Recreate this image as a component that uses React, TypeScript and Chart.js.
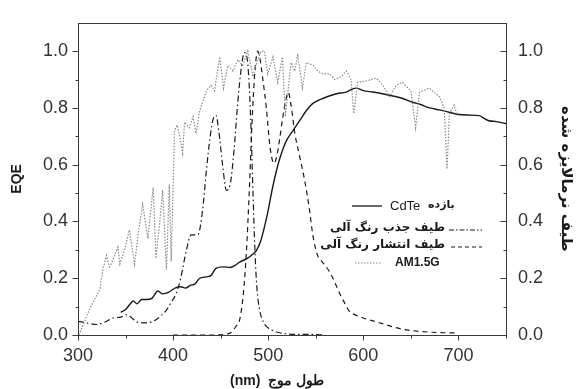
import React, { useEffect, useRef } from 'react';
import { Chart, registerables } from 'chart.js';

Chart.register(...registerables);

// ---- data ----
const cdteWl = [345, 350, 355, 358, 362, 367, 372, 378, 384, 389, 395, 403, 408, 413, 418, 423, 428, 435, 440, 445, 452, 460, 465, 470, 478, 484, 488, 492, 496, 500, 504, 508, 512, 516, 520, 526, 533, 540, 547, 555, 564, 572, 582, 592, 600, 610, 620, 630, 640, 652, 660, 670, 680, 690, 700, 710, 722, 726, 732, 740, 750];
const cdteEqe = [0.08, 0.09, 0.11, 0.12, 0.11, 0.125, 0.125, 0.13, 0.155, 0.145, 0.15, 0.167, 0.17, 0.165, 0.175, 0.18, 0.2, 0.205, 0.21, 0.235, 0.24, 0.238, 0.245, 0.257, 0.27, 0.285, 0.3, 0.33, 0.38, 0.44, 0.51, 0.57, 0.62, 0.66, 0.69, 0.72, 0.755, 0.79, 0.816, 0.83, 0.842, 0.85, 0.856, 0.87, 0.861, 0.856, 0.85, 0.843, 0.835, 0.82, 0.812, 0.8, 0.793, 0.785, 0.777, 0.775, 0.773, 0.765, 0.755, 0.752, 0.745];

const absWl = [300, 310, 319, 328, 337, 345, 351, 356, 360, 365, 372, 382, 388, 393, 398, 403, 408, 414, 419, 426, 431, 435, 439, 442, 445, 448, 452, 456, 460, 464, 468, 472, 475, 478, 480, 482, 484, 486, 488, 491, 495, 500, 505, 512, 520, 530, 545, 560];
const absVal = [0.048, 0.042, 0.037, 0.045, 0.06, 0.063, 0.071, 0.062, 0.05, 0.043, 0.043, 0.054, 0.07, 0.088, 0.115, 0.145, 0.2, 0.3, 0.353, 0.353, 0.44, 0.58, 0.7, 0.76, 0.774, 0.72, 0.6, 0.51, 0.53, 0.65, 0.82, 0.95, 0.995, 0.97, 0.88, 0.72, 0.5, 0.3, 0.17, 0.088, 0.045, 0.025, 0.015, 0.008, 0.004, 0.002, 0.002, 0.0];

const emWl = [400, 420, 440, 455, 461, 466, 470, 474, 477, 480, 483, 486, 489, 491, 494, 498, 502, 506, 509, 512, 515, 518, 521, 524, 528, 533, 538, 543, 547, 552, 556, 560, 564, 568, 572, 576, 580, 585, 592, 600, 610, 622, 634, 645, 655, 670, 685, 700];
const emVal = [0.0, 0.0, 0.0, 0.003, 0.009, 0.03, 0.054, 0.15, 0.29, 0.5, 0.75, 0.93, 1.0, 0.98, 0.91, 0.8, 0.66, 0.605, 0.63, 0.69, 0.76, 0.82, 0.855, 0.81, 0.71, 0.63, 0.55, 0.45, 0.35, 0.28, 0.26, 0.245, 0.225, 0.2, 0.17, 0.14, 0.115, 0.085, 0.07, 0.06, 0.05, 0.038, 0.026, 0.018, 0.014, 0.01, 0.008, 0.007];

const amWl = [301, 306, 312, 318, 323, 326, 330, 333, 335, 338.5, 342, 344, 349, 354, 359.5, 363, 368, 373.5, 379, 382, 386, 389, 393, 396, 398, 401.5, 404, 407, 410, 412, 417, 421, 424, 428, 431, 435, 440, 443.5, 449, 453, 457.5, 463, 468, 473, 478.5, 484, 487, 492.5, 496, 499.5, 505, 510, 515, 518, 524, 528, 531, 536, 540, 547, 552, 557.5, 564.5, 570, 577, 582, 587, 590, 594, 603, 613.5, 620.5, 627.5, 634.5, 641, 650, 655, 659, 669, 680, 685, 688, 690.5, 695.5, 698];
const amVal = [0.0, 0.04, 0.09, 0.13, 0.16, 0.23, 0.28, 0.24, 0.25, 0.28, 0.31, 0.25, 0.3, 0.37, 0.25, 0.35, 0.46, 0.34, 0.52, 0.27, 0.4, 0.51, 0.23, 0.53, 0.26, 0.72, 0.74, 0.7, 0.64, 0.75, 0.73, 0.77, 0.71, 0.79, 0.82, 0.86, 0.88, 0.86, 0.98, 0.87, 0.95, 0.93, 0.97, 0.95, 1.0, 0.91, 0.95, 1.0, 1.0, 0.92, 0.98, 0.89, 0.98, 0.77, 0.96, 0.93, 0.99, 0.87, 0.96, 0.95, 0.93, 0.92, 0.92, 0.9, 0.91, 0.93, 0.9, 0.78, 0.89, 0.895, 0.905, 0.88, 0.84, 0.88, 0.89, 0.86, 0.73, 0.855, 0.87, 0.84, 0.8, 0.585, 0.78, 0.81, 0.78];

const xTickValues = [300, 400, 500, 600, 700];
const xMinorValues = [350, 450, 550, 650, 750];
const yTickValues = [0, 0.2, 0.4, 0.6, 0.8, 1.0];
const yMinorValues = [0.1, 0.3, 0.5, 0.7, 0.9];

const xTitle = '(nm)  طول موج';
const yLeftTitle = 'EQE';
const yRightTitle = 'طیف نرمالایزه شده';
const legendCdte = ['CdTe', 'بازده'];
const legendAbs = 'طیف جذب رنگ آلی';
const legendEm = 'طیف انتشار رنگ آلی';
const legendAm = 'AM1.5G';

const LATIN = '"Liberation Sans", Arial, sans-serif';
const PERSIAN = '"DejaVu Sans", sans-serif';
const INK = '#1a1a1a';
const AXIS = '#3a3a3a';
const GRAY = '#8a8a8a';

const pts = (xs: number[], ys: number[]) => xs.map((x, i) => ({ x, y: ys[i] }));

const decorPlugin = {
  id: 'decor',
  afterDatasetsDraw(chart: any) {
    const { ctx, chartArea: a, scales } = chart;
    const xs = scales.x;
    const yl = scales.y;
    ctx.save();
    ctx.strokeStyle = AXIS;
    ctx.lineWidth = 1;
    const L = Math.round(a.left) + 0.5;
    const R = Math.round(a.right) + 0.5;
    const T = Math.round(a.top) + 0.5;
    const B = Math.round(a.bottom) + 0.5;
    ctx.strokeRect(L, T, R - L, B - T);
    const h = (x1: number, x2: number, y: number) => {
      const yy = Math.round(y) + 0.5;
      ctx.beginPath(); ctx.moveTo(x1, yy); ctx.lineTo(x2, yy); ctx.stroke();
    };
    const v = (x: number, y1: number, y2: number) => {
      const xx = Math.round(x) + 0.5;
      ctx.beginPath(); ctx.moveTo(xx, y1); ctx.lineTo(xx, y2); ctx.stroke();
    };
    yTickValues.forEach((t) => { const p = yl.getPixelForValue(t); h(L - 6, L, p); h(R - 6, R, p); });
    yMinorValues.forEach((t) => { const p = yl.getPixelForValue(t); h(L - 3, L, p); h(R - 3, R, p); });
    xTickValues.forEach((t) => { const p = xs.getPixelForValue(t); v(p, B, B + 5); });
    xMinorValues.forEach((t) => { const p = xs.getPixelForValue(t); v(p, B, B + 3); });
    ctx.restore();
  },
  afterDraw(chart: any) {
    const { ctx, chartArea: a } = chart;
    ctx.save();
    const seg = (x1: number, x2: number, y: number, dash: number[], color: string, w: number) => {
      ctx.save();
      ctx.strokeStyle = color; ctx.lineWidth = w; ctx.setLineDash(dash);
      ctx.beginPath(); ctx.moveTo(x1, y); ctx.lineTo(x2, y); ctx.stroke();
      ctx.restore();
    };
    ctx.fillStyle = INK;
    ctx.textBaseline = 'middle';
    // row 1
    seg(352, 382, 206, [], INK, 1.3);
    ctx.textAlign = 'left';
    ctx.font = `13px ${LATIN}`;
    ctx.fillText(legendCdte[0], 390, 206);
    ctx.font = `bold 11px ${PERSIAN}`;
    ctx.fillText(legendCdte[1], 428, 205);
    // row 2
    ctx.font = `bold 12px ${PERSIAN}`;
    ctx.textAlign = 'right';
    ctx.fillText(legendAbs, 445, 228);
    seg(449, 482, 230, [5, 2, 1.5, 2], INK, 1.1);
    // row 3
    ctx.fillText(legendEm, 445, 245);
    seg(451, 482, 247, [4, 3], INK, 1.1);
    // row 4
    seg(355, 382, 263, [1.5, 1.5], GRAY, 1.1);
    ctx.textAlign = 'left';
    ctx.font = `bold 12px ${LATIN}`;
    ctx.fillText(legendAm, 395, 263);
    // x title
    ctx.textAlign = 'center';
    ctx.font = `bold 14px ${LATIN}`;
    ctx.fillText(xTitle, (a.left + a.right) / 2 - 15, 381);
    ctx.restore();
  },
};

export default function App() {
  const ref = useRef<HTMLCanvasElement | null>(null);
  useEffect(() => {
    document.body.style.margin = '0';
    const canvas = ref.current;
    if (!canvas) return;
    const tickFont = { family: LATIN, size: 18 };
    const chart = new Chart(canvas, {
      type: 'line',
      data: {
        datasets: [
          { label: 'AM1.5G', data: pts(amWl, amVal), borderColor: GRAY, borderWidth: 1.2, borderDash: [1.5, 1.5], pointRadius: 0, tension: 0, yAxisID: 'y2' },
          { label: 'abs', data: pts(absWl, absVal), borderColor: INK, borderWidth: 1.2, borderDash: [6, 3, 1.5, 3], pointRadius: 0, cubicInterpolationMode: 'monotone', yAxisID: 'y2' },
          { label: 'em', data: pts(emWl, emVal), borderColor: INK, borderWidth: 1.2, borderDash: [5, 4], pointRadius: 0, cubicInterpolationMode: 'monotone', yAxisID: 'y2' },
          { label: 'CdTe', data: pts(cdteWl, cdteEqe), borderColor: INK, borderWidth: 1.4, pointRadius: 0, cubicInterpolationMode: 'monotone', yAxisID: 'y' },
        ],
      },
      options: {
        animation: false,
        responsive: true,
        maintainAspectRatio: false,
        layout: { padding: { top: 11, left: 0, right: 0, bottom: 0 } },
        plugins: { legend: { display: false }, tooltip: { enabled: false } },
        scales: {
          x: {
            type: 'linear',
            min: 300,
            max: 750,
            grid: { display: false, drawTicks: false },
            border: { display: false },
            afterBuildTicks: (s: any) => { s.ticks = xTickValues.map((value) => ({ value })); },
            afterFit: (s: any) => { s.height = 54; },
            ticks: { font: tickFont, color: '#333', padding: 10, maxRotation: 0, callback: (v: any) => String(v) },
          },
          y: {
            type: 'linear',
            position: 'left',
            min: 0,
            max: 1.1,
            grid: { display: false, drawTicks: false },
            border: { display: false },
            afterBuildTicks: (s: any) => { s.ticks = yTickValues.map((value) => ({ value })); },
            afterFit: (s: any) => { s.width = 78; },
            ticks: { font: tickFont, color: '#333', padding: 10, callback: (v: any) => Number(v).toFixed(1) },
            title: { display: true, text: yLeftTitle, color: INK, font: { family: LATIN, size: 14, weight: 'bold' }, padding: { top: 9, bottom: 0 } },
          },
          y2: {
            type: 'linear',
            position: 'right',
            display: true,
            min: 0,
            max: 1.1,
            grid: { display: false, drawTicks: false },
            border: { display: false },
            afterBuildTicks: (s: any) => { s.ticks = yTickValues.map((value) => ({ value })); },
            afterFit: (s: any) => { s.width = 70; },
            ticks: { font: tickFont, color: '#333', padding: 12, callback: (v: any) => Number(v).toFixed(1) },
            title: { display: true, text: yRightTitle, color: INK, font: { family: PERSIAN, size: 15, weight: 'bold' }, padding: { top: 1, bottom: 0 } },
          },
        },
      },
      plugins: [decorPlugin],
    });
    return () => chart.destroy();
  }, []);
  return (
    <div style={{ position: 'relative', width: '576px', height: '389px', background: '#fff' }}>
      <canvas ref={ref} />
    </div>
  );
}
